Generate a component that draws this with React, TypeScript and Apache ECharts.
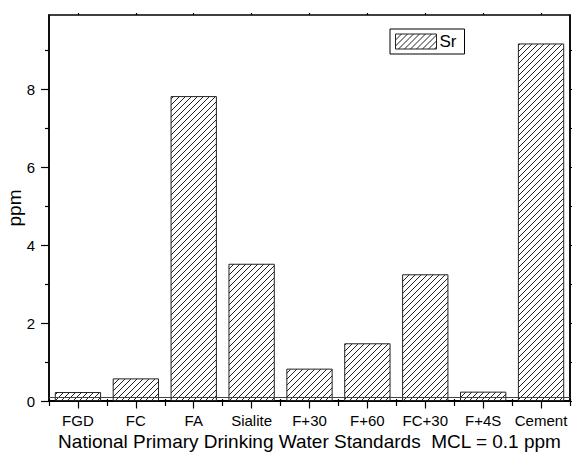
import React, { useEffect, useRef } from "react";
import * as echarts from "echarts";

const categories = ["FGD", "FC", "FA", "Sialite", "F+30", "F+60", "FC+30", "F+4S", "Cement"];
const srValues = [0.23, 0.58, 7.82, 3.52, 0.83, 1.48, 3.25, 0.24, 9.17];
const mclValue = 0.1;
const yMajorTicks = [0, 2, 4, 6, 8];
const yMinorTicks = [1, 3, 5, 7, 9];
const yAllTicks = [0, 1, 2, 3, 4, 5, 6, 7, 8, 9];
const yMax = 9.9;

const FONT = "Liberation Sans, Arial, sans-serif";

// Diagonal "/" hatch tile used as the bar fill.
function makeHatch(): HTMLCanvasElement {
  const s = 6;
  const c = document.createElement("canvas");
  c.width = s;
  c.height = s;
  const g = c.getContext("2d")!;
  g.fillStyle = "#ffffff";
  g.fillRect(0, 0, s, s);
  g.strokeStyle = "#222222";
  g.lineWidth = 1;
  for (let k = -1; k <= 1; k++) {
    g.beginPath();
    g.moveTo(k * s, s);
    g.lineTo(k * s + s, 0);
    g.stroke();
  }
  return c;
}

export default function App() {
  const ref = useRef<HTMLDivElement>(null);

  useEffect(() => {
    if (!ref.current) return;
    const chart = echarts.init(ref.current, undefined, { renderer: "svg" });
    const hatch = { image: makeHatch(), repeat: "repeat" } as any;

    const lineStyle = { color: "#000", width: 1.5 };

    chart.setOption({
      animation: false,
      backgroundColor: "#fff",
      textStyle: { fontFamily: FONT },
      grid: {
        left: 49,
        right: 9,
        top: 15,
        bottom: 54,
        outerBoundsMode: "none",
        containLabel: false,
        show: true,
        borderColor: "#000",
        borderWidth: 1.5,
        backgroundColor: "transparent",
      },
      legend: {
        left: 390,
        top: 29,
        orient: "horizontal",
        data: ["Sr"],
        icon: "rect",
        itemWidth: 41,
        itemHeight: 15,
        itemGap: 6,
        padding: [4, 8, 4, 5],
        borderColor: "#000",
        borderWidth: 1,
        borderRadius: 0,
        textStyle: { fontFamily: FONT, fontSize: 17, color: "#000", padding: [0, 0, 0, -2] },
        itemStyle: { borderColor: "#222", borderWidth: 1 },
      },
      xAxis: [
        {
          type: "category",
          data: categories,
          position: "bottom",
          boundaryGap: true,
          axisLine: { show: true, lineStyle },
          axisTick: { show: true, interval: 0, length: 5, lineStyle: { color: "#000", width: 1.2 } },
          axisLabel: { interval: 0, margin: 12, fontSize: 15, color: "#000", fontFamily: FONT },
          name: "National Primary Drinking Water Standards  MCL = 0.1 ppm",
          nameLocation: "middle",
          nameGap: 31,
          nameMoveOverlap: false,
          nameTextStyle: { fontSize: 19, color: "#000", fontFamily: FONT },
          splitLine: { show: false },
        },
        {
          type: "category",
          data: categories,
          position: "bottom",
          boundaryGap: true,
          axisLine: { show: false },
          axisTick: { show: true, interval: 0, alignWithLabel: true, length: 7.5, lineStyle: { color: "#000", width: 1.2 } },
          axisLabel: { show: false },
          splitLine: { show: false },
        },
        {
          type: "category",
          data: categories,
          position: "top",
          boundaryGap: true,
          axisLine: { show: true, lineStyle },
          axisTick: { show: true, interval: 0, length: 2, lineStyle: { color: "#000", width: 1.2 } },
          axisLabel: { show: false },
          splitLine: { show: false },
        },
        {
          type: "category",
          data: categories,
          position: "top",
          boundaryGap: true,
          axisLine: { show: false },
          axisTick: { show: true, interval: 0, alignWithLabel: true, length: 2, lineStyle: { color: "#000", width: 1.2 } },
          axisLabel: { show: false },
          splitLine: { show: false },
        },
      ],
      yAxis: [
        {
          type: "value",
          position: "left",
          min: 0,
          max: yMax,
          axisLine: { show: true, lineStyle },
          axisTick: { show: true, length: 8, customValues: yMajorTicks, lineStyle: { color: "#000", width: 1.2 } },
          axisLabel: { customValues: yMajorTicks, margin: 14, fontSize: 15, color: "#000", fontFamily: FONT },
          splitLine: { show: false },
          name: "ppm",
          nameLocation: "middle",
          nameGap: 25,
          nameMoveOverlap: false,
          nameTextStyle: { fontSize: 19, color: "#000", fontFamily: FONT },
        },
        {
          type: "value",
          position: "left",
          min: 0,
          max: yMax,
          axisLine: { show: false },
          axisTick: { show: true, length: 4, customValues: yMinorTicks, lineStyle: { color: "#000", width: 1.2 } },
          axisLabel: { show: false },
          splitLine: { show: false },
        },
        {
          type: "value",
          position: "right",
          min: 0,
          max: yMax,
          axisLine: { show: true, lineStyle },
          axisTick: { show: true, length: 2, customValues: yAllTicks, lineStyle: { color: "#000", width: 1.2 } },
          axisLabel: { show: false },
          splitLine: { show: false },
        },
      ],
      series: [
        {
          name: "Sr",
          type: "bar",
          xAxisIndex: 0,
          yAxisIndex: 0,
          data: srValues,
          barCategoryGap: "20%",
          itemStyle: { color: hatch, borderColor: "#222", borderWidth: 1 },
          markLine: {
            silent: true,
            symbol: "none",
            z: 10,
            label: { show: false },
            lineStyle: { color: "#444", width: 1, type: "solid" },
            data: [{ yAxis: mclValue }],
          },
        },
      ],
    });

    return () => chart.dispose();
  }, []);

  return <div ref={ref} style={{ position: "fixed", left: 0, top: 0, width: 579, height: 455 }} />;
}
